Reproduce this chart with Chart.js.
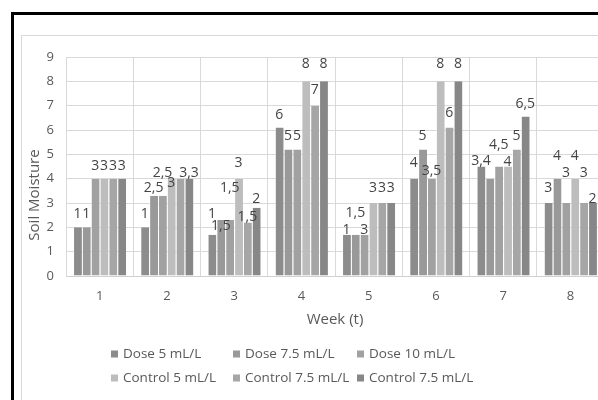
<!DOCTYPE html>
<html>
<head>
<meta charset="utf-8">
<script src="https://cdn.jsdelivr.net/npm/chart.js@4.4.1/dist/chart.umd.min.js"></script>
<style>
  html, body { margin: 0; padding: 0; background: #fff; width: 598px; height: 400px; overflow: hidden; }
  #frame { position: absolute; left: 11px; top: 12px; width: 660px; height: 440px;
           border-left: 3px solid #000; border-top: 3px solid #000; }
  #panel { position: absolute; left: 21px; top: 35px; width: 660px; height: 440px;
           border-left: 1px solid #d9d9d9; border-top: 1px solid #d9d9d9; }
  #c { position: absolute; left: 0; top: 0; }
</style>
</head>
<body>
<div id="frame"></div>
<div id="panel"></div>
<canvas id="c" width="620" height="400"></canvas>
<script>
// Weeks on the x axis
const weeks = ['1', '2', '3', '4', '5', '6', '7', '8'];
const yTicks = [0, 1, 2, 3, 4, 5, 6, 7, 8, 9];

// Series names (legend order)
const seriesNames = ['Dose 5 mL/L', 'Dose 7.5 mL/L', 'Dose 10 mL/L',
                     'Control 5 mL/L', 'Control 7.5 mL/L', 'Control 7.5 mL/L'];

// Bar heights per series, week 1..8
const dose5     = [2, 2,   1.7, 6.1, 1.7, 4,   4.5,  3];
const dose75    = [2, 3.3, 2.3, 5.2, 1.7, 5.2, 4,    4];
const dose10    = [4, 3.3, 2.3, 5.2, 1.7, 4,   4.5,  3];
const control5  = [4, 4,   4,   8,   3,   8,   4.5,  4];
const control75 = [4, 4,   2.2, 7,   3,   6.1, 5.2,  3];
const control75b= [4, 4,   2.8, 8,   3,   8,   6.55, 3];

// Figures printed above the bars (null = no figure)
const dose5Text     = [1, 1,    1,   6, 1,   4,   3.4,  3];
const dose75Text    = [1, 2.5,  1.5, 5, 1.5, 5,   null, 4];
const dose10Text    = [3, 2.5,  1.5, 5, 3,   3.5, 4.5,  3];
const control5Text  = [3, 3,    3,   8, 3,   8,   4,    4];
const control75Text = [3, null, 1.5, 7, 3,   6,   5,    3];
const control75bText= [3, 3.3,  2,   8, 3,   8,   6.5,  2];

const seriesValues = [dose5, dose75, dose10, control5, control75, control75b];
const seriesTexts  = [dose5Text, dose75Text, dose10Text, control5Text, control75Text, control75bText];
const seriesColors = ['#8c8c8c', '#999999', '#a1a1a1', '#bdbdbd', '#a6a6a6', '#878787'];

const FONT = '"Open Sans", "Segoe UI", sans-serif';
const TEXT_GREY = '#595959';

// Hand-placed figures: vertical shift (px, + = down) of each figure from its default spot
const figureShift = [
  [0,  0,  -8, 0,  8,  -3, 7, -2],
  [0,  5,  19, 0, -9,   0, 0, -10],
  [0, -10, -19, 0,  8,  5, -9, -17],
  [0,  17, -3, -4, -2, -4, 8, -10],
  [0,  0,   8, -3, -2, -2, 0, -17],
  [0,  7,   4, -4, -2, -4, 0,  9]
];

const decor = {
  id: 'decor',
  afterDatasetsDraw(chart) {
    const ctx = chart.ctx;
    ctx.save();
    ctx.font = '14px ' + FONT;
    ctx.fillStyle = '#444444';
    ctx.textAlign = 'center';
    ctx.textBaseline = 'alphabetic';
    chart.data.datasets.forEach((ds, i) => {
      const meta = chart.getDatasetMeta(i);
      meta.data.forEach((bar, j) => {
        const v = seriesTexts[i][j];
        if (v === null || v === undefined) return;
        ctx.fillText(String(v).replace('.', ','), bar.x, bar.y - 9 + figureShift[i][j]);
      });
    });
    ctx.restore();
  },
  afterDraw(chart) {
    const ctx = chart.ctx;
    ctx.save();
    ctx.fillStyle = TEXT_GREY;
    // axis titles
    ctx.font = '15px ' + FONT;
    ctx.textAlign = 'center';
    ctx.textBaseline = 'middle';
    ctx.fillText('Week (t)', 335, 320);
    ctx.translate(35, 195);
    ctx.rotate(-Math.PI / 2);
    ctx.fillText('Soil Moisture', 0, 0);
    ctx.restore();

    // legend: three columns, two rows
    ctx.save();
    const colX = [111, 233, 357];
    const rowY = [354, 378];
    ctx.font = '13.5px ' + FONT;
    ctx.textAlign = 'left';
    ctx.textBaseline = 'middle';
    chart.data.datasets.forEach((ds, i) => {
      const x = colX[i % 3];
      const y = rowY[Math.floor(i / 3)];
      ctx.fillStyle = ds.backgroundColor;
      ctx.fillRect(x, y - 3.5, 7, 7);
      ctx.fillStyle = TEXT_GREY;
      ctx.fillText(ds.label, x + 12, y);
    });
    ctx.restore();
  }
};

new Chart(document.getElementById('c'), {
  type: 'bar',
  data: {
    labels: weeks,
    datasets: seriesValues.map((vals, i) => ({
      label: seriesNames[i],
      data: vals,
      backgroundColor: seriesColors[i],
      borderColor: 'rgba(255,255,255,0.55)',
      borderWidth: { left: 1, right: 0, top: 0, bottom: 0 },
      categoryPercentage: 0.79,
      barPercentage: 1.0
    }))
  },
  options: {
    responsive: false,
    animation: false,
    devicePixelRatio: 1,
    layout: { padding: { left: 0, right: 16, top: 57, bottom: 0 } },
    plugins: { legend: { display: false }, tooltip: { enabled: false }, title: { display: false } },
    scales: {
      x: {
        grid: { color: '#d9d9d9', drawTicks: false },
        border: { color: '#d0d0d0' },
        ticks: { color: TEXT_GREY, font: { family: FONT, size: 13 }, padding: 12 },
        afterFit(s) { s.height = 124; }
      },
      y: {
        min: 0, max: 9,
        afterBuildTicks(s) { s.ticks = yTicks.map(v => ({ value: v })); },
        grid: { color: '#d9d9d9', drawTicks: false },
        border: { color: '#d9d9d9' },
        ticks: { color: TEXT_GREY, font: { family: FONT, size: 13 }, padding: 12 },
        afterFit(s) { s.width = 66; }
      }
    }
  },
  plugins: [decor]
});
</script>
</body>
</html>
